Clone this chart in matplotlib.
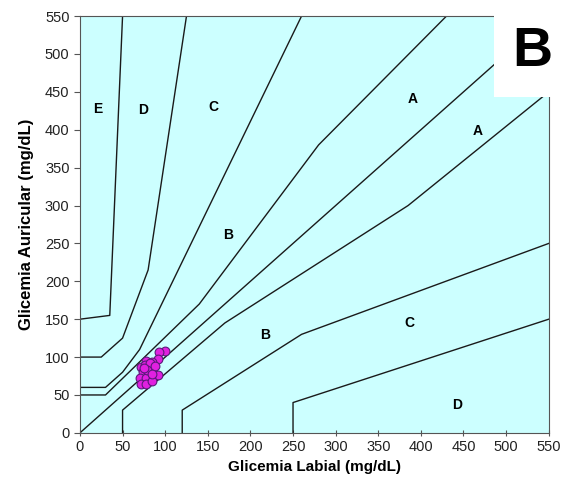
import matplotlib
matplotlib.use("Agg")
import matplotlib.pyplot as plt
from matplotlib.patches import Rectangle

plt.rcParams['font.family'] = ['Liberation Sans', 'DejaVu Sans']

# Parkes error grid zone boundaries (x, y) in mg/dL
a_upper = [(0, 50), (30, 50), (140, 170), (280, 380), (430, 550)]
a_lower = [(50, 0), (50, 30), (170, 145), (385, 300), (550, 450)]
b_upper = [(0, 60), (30, 60), (50, 80), (70, 110), (260, 550)]
b_lower = [(120, 0), (120, 30), (260, 130), (550, 250)]
c_upper = [(0, 100), (25, 100), (50, 125), (80, 215), (125, 550)]
c_lower = [(250, 0), (250, 40), (550, 150)]
d_upper = [(0, 150), (35, 155), (50, 550)]
identity = [(0, 0), (550, 550)]

# zone labels
zone_names = ['E', 'D', 'C', 'B', 'A', 'A', 'B', 'C', 'D']
zone_x = [21, 74, 156, 174, 390, 467, 217, 387, 443]
zone_y = [428, 426, 430, 261, 441, 398, 129, 145, 37]

# measurements: labial (x) vs auricular (y)
labial = [100, 93, 92, 78, 84, 72, 80, 86, 74, 82, 92, 70, 78, 72, 78, 84,
          76, 82, 79, 88, 75, 85]
auricular = [108, 107, 98, 95, 94, 87, 87, 85, 80, 80, 77, 72, 72, 64, 64, 68,
             90, 92, 83, 88, 85, 78]

fig = plt.figure(figsize=(5.71, 4.88), dpi=100)
ax = fig.add_axes([0.140, 0.113, 0.821, 0.854])
ax.set_facecolor('#ccffff')

for line in [a_upper, a_lower, b_upper, b_lower, c_upper, c_lower, d_upper, identity]:
    xs = [p[0] for p in line]
    ys = [p[1] for p in line]
    ax.plot(xs, ys, color='#1a1a1a', lw=1.0)

for name, x, y in zip(zone_names, zone_x, zone_y):
    ax.text(x, y, name, ha='center', va='center', fontsize=10, fontweight='bold')

ax.scatter(labial, auricular, s=40, c='#e020e0', edgecolors='#5a1a7a',
           linewidths=0.8, zorder=5)

ax.set_xlim(0, 550)
ax.set_ylim(0, 550)
ax.set_xticks(range(0, 551, 50))
ax.set_yticks(range(0, 551, 50))
ax.tick_params(labelsize=10.5, colors='#555555', labelcolor='#222222', length=4)
ax.tick_params(axis='x', direction='inout')
for s in ax.spines.values():
    s.set_color('#555555')

ax.set_xlabel('Glicemia Labial (mg/dL)', fontsize=11, fontweight='bold')
ax.set_ylabel('Glicemia Auricular (mg/dL)', fontsize=12, fontweight='bold')
ax.xaxis.set_label_coords(0.5, -0.066)
ax.yaxis.set_label_coords(-0.098, 0.5)

# panel letter in white box
fig.patches.append(Rectangle((494 / 571, 1 - 97 / 488), 77 / 571, 97 / 488,
                             transform=fig.transFigure, facecolor='white',
                             edgecolor='none', zorder=10))
fig.text(532 / 571, 1 - 52 / 488, 'B', fontsize=40, fontweight='bold',
         ha='center', va='center', zorder=11)

fig.savefig('out.png', dpi=100)
